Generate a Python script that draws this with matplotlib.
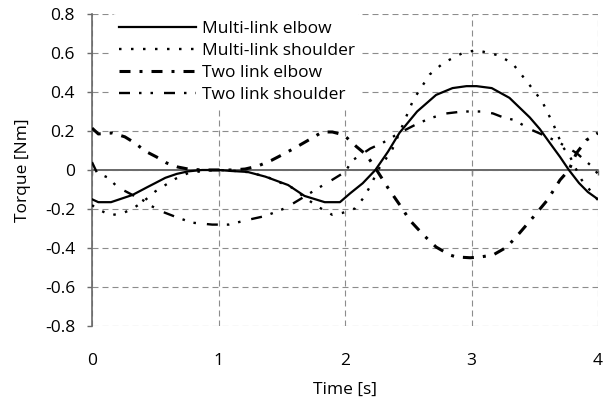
import matplotlib
matplotlib.use("Agg")
import matplotlib.pyplot as plt
from matplotlib.ticker import FixedLocator, NullFormatter

plt.rcParams['font.family'] = ['Open Sans', 'DejaVu Sans']
plt.rcParams['axes.unicode_minus'] = False
plt.rcParams['lines.scale_dashes'] = False

# ---- data ----
t_ml_elbow = [0.0, 0.05, 0.15, 0.32, 0.44, 0.5, 0.58, 0.67, 0.76, 0.87, 1.0, 1.1, 1.23, 1.37, 1.55, 1.68,
              1.84, 1.96, 2.04, 2.14, 2.24, 2.34, 2.43, 2.57, 2.72, 2.85, 2.96, 3.04, 3.16, 3.30, 3.38,
              3.46, 3.54, 3.62, 3.70, 3.77, 3.85, 3.92, 4.0]
v_ml_elbow = [-0.15, -0.165, -0.165, -0.128, -0.087, -0.067, -0.04, -0.02, -0.007, 0.0, 0.0, -0.005, -0.01,
              -0.034, -0.077, -0.133, -0.165, -0.165, -0.12, -0.068, 0.0, 0.094, 0.19, 0.30, 0.385, 0.42,
              0.43, 0.43, 0.42, 0.37, 0.32, 0.27, 0.21, 0.138, 0.067, 0.0, -0.067, -0.113, -0.15]

t_ml_shoulder = [0.0, 0.04, 0.15, 0.25, 0.33, 0.42, 0.5, 0.58, 0.66, 0.76, 0.9, 1.0, 1.1, 1.25, 1.4, 1.58,
                 1.68, 1.79, 1.9, 1.98, 2.08, 2.15, 2.21, 2.26, 2.37, 2.43, 2.54, 2.67, 2.78, 2.93, 3.04,
                 3.2, 3.32, 3.43, 3.49, 3.56, 3.65, 3.72, 3.78, 3.83, 3.87, 4.0]
v_ml_shoulder = [-0.18, -0.2, -0.232, -0.22, -0.195, -0.154, -0.11, -0.077, -0.045, -0.016, -0.003, 0.0,
                 -0.003, -0.012, -0.04, -0.09, -0.14, -0.19, -0.23, -0.22, -0.197, -0.14, -0.07, 0.0, 0.1,
                 0.19, 0.36, 0.49, 0.55, 0.60, 0.615, 0.59, 0.55, 0.46, 0.41, 0.35, 0.23, 0.12, 0.067, 0.0,
                 -0.05, -0.155]

t_tl_elbow = [0.0, 0.05, 0.16, 0.26, 0.34, 0.42, 0.51, 0.59, 0.68, 0.76, 0.87, 1.0, 1.1, 1.21, 1.31, 1.42,
              1.53, 1.63, 1.74, 1.82, 1.90, 1.99, 2.09, 2.17, 2.25, 2.34, 2.45, 2.51, 2.62, 2.72, 2.83,
              2.88, 2.99, 3.07, 3.17, 3.28, 3.38, 3.49, 3.6, 3.7, 3.77, 3.83, 3.91, 4.0]
v_tl_elbow = [0.215, 0.185, 0.19, 0.17, 0.138, 0.097, 0.067, 0.036, 0.015, 0.005, 0.0, 0.0, 0.0, 0.005,
              0.02, 0.05, 0.087, 0.123, 0.164, 0.195, 0.195, 0.18, 0.12, 0.077, 0.0, -0.092, -0.195,
              -0.256, -0.333, -0.395, -0.436, -0.446, -0.45, -0.446, -0.436, -0.395, -0.323, -0.24,
              -0.154, -0.051, 0.0, 0.087, 0.154, 0.19]

t_tl_shoulder = [0.0, 0.04, 0.13, 0.2, 0.32, 0.4, 0.47, 0.56, 0.66, 0.79, 0.95, 1.08, 1.23, 1.37, 1.53,
                 1.66, 1.79, 1.9, 2.0, 2.06, 2.2, 2.3, 2.43, 2.55, 2.67, 2.8, 2.93, 3.09, 3.17, 3.25, 3.34,
                 3.46, 3.6, 3.7, 3.83, 3.94, 4.0]
v_tl_shoulder = [0.04, -0.015, -0.04, -0.087, -0.128, -0.154, -0.185, -0.215, -0.24, -0.27, -0.28, -0.28,
                 -0.256, -0.236, -0.195, -0.144, -0.092, -0.05, -0.01, 0.05, 0.11, 0.14, 0.19, 0.23,
                 0.265, 0.29, 0.30, 0.30, 0.29, 0.27, 0.256, 0.21, 0.17, 0.138, 0.087, 0.025, -0.02]

series_names = ["Multi-link elbow", "Multi-link shoulder", "Two link elbow", "Two link shoulder"]
x_ticks = [0, 1, 2, 3, 4]
x_tick_labels = ["0", "1", "2", "3", "4"]
y_ticks = [-0.8, -0.6, -0.4, -0.2, 0.0, 0.2, 0.4, 0.6, 0.8]
y_tick_labels = ["-0.8", "-0.6", "-0.4", "-0.2", "0", "0.2", "0.4", "0.6", "0.8"]

# ---- figure ----
fig = plt.figure(figsize=(6.11, 4.01), dpi=100)
ax = fig.add_axes([92/611, 75/401, 506/611, 312/401])

fs = 12.5
grid_col = '#8c8c8c'
axis_col = '#6a6a6a'

p = 72/100.0  # px -> pt

ax.plot(t_ml_elbow, v_ml_elbow, color='black', lw=1.6, label=series_names[0], zorder=5)
ax.plot(t_ml_shoulder, v_ml_shoulder, color='black', lw=1.7,
        linestyle=(0, (2.5*p, 9.5*p)), label=series_names[1], zorder=5)
ax.plot(t_tl_elbow, v_tl_elbow, color='black', lw=2.2,
        linestyle=(0, (11*p, 9*p, 3*p, 9*p)), label=series_names[2], zorder=5)
ax.plot(t_tl_shoulder, v_tl_shoulder, color='black', lw=1.7,
        linestyle=(0, (11*p, 9*p, 2.5*p, 9*p, 2.5*p, 11*p)), label=series_names[3], zorder=5)

ax.set_xlim(0, 4)
ax.set_ylim(-0.8, 0.8)

ax.xaxis.set_major_locator(FixedLocator(x_ticks))
ax.yaxis.set_major_locator(FixedLocator(y_ticks))
ax.set_xticklabels(x_tick_labels)
ax.set_yticklabels(y_tick_labels)
ax.grid(True, color=grid_col, lw=0.8, linestyle=(0, (6*p, 4*p)), zorder=0)
ax.set_axisbelow(True)

for s in ['top', 'right', 'bottom']:
    ax.spines[s].set_visible(False)
ax.spines['left'].set_color(axis_col)
ax.spines['left'].set_linewidth(1.2)

ax.tick_params(axis='y', direction='out', length=5*p, width=1.0, color=axis_col,
               labelsize=fs, pad=12*p, labelcolor='black')
ax.tick_params(axis='x', length=0, labelsize=fs, pad=27*p, labelcolor='black')

# horizontal axis line through zero, with tick marks
ax.axhline(0, color=axis_col, lw=1.3, zorder=3)
sec = ax.secondary_xaxis(0.5)
sec.xaxis.set_major_locator(FixedLocator(x_ticks))
sec.xaxis.set_major_formatter(NullFormatter())
sec.tick_params(axis='x', direction='in', length=5*p, width=1.0, color=axis_col,
                labeltop=False, labelbottom=False)
for s in sec.spines.values():
    s.set_color(axis_col)
    s.set_linewidth(1.2)

ax.set_xlabel("Time [s]", fontsize=fs, labelpad=9)
ax.set_ylabel("Torque [Nm]", fontsize=fs, labelpad=10)

leg = ax.legend(loc='upper left', bbox_to_anchor=(0.04, 1.0), frameon=True, fontsize=fs,
                handlelength=4.4, handletextpad=0.35, labelspacing=0.33, borderpad=0.4,
                borderaxespad=0.0)
leg.get_frame().set_facecolor('white')
leg.get_frame().set_edgecolor('none')
leg.get_frame().set_alpha(1.0)
leg.set_zorder(10)

fig.savefig("out.png", dpi=100)
